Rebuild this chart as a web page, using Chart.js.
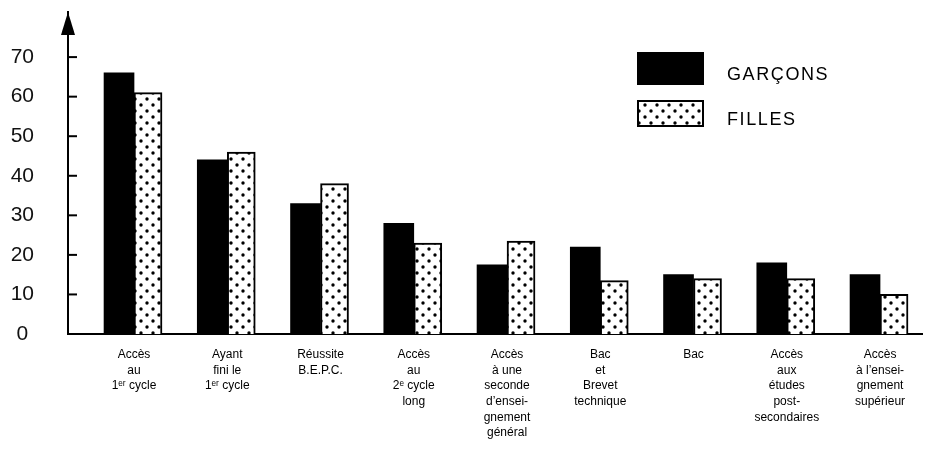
<!DOCTYPE html>
<html lang="fr">
<head>
    <meta charset="UTF-8">
    <title>Garçons / Filles</title>
    <script src="https://cdn.jsdelivr.net/npm/chart.js"></script>
    <style>
        body { margin: 0; background: #fff; }
        #wrap { position: relative; width: 928px; height: 449px; }
    </style>
</head>
<body>
    <div id="wrap"><canvas id="grafica" width="928" height="449"></canvas></div>

    <script>
        // données
        const etapes = [
            ['Accès', 'au', '1ᵉʳ cycle'],
            ['Ayant', 'fini le', '1ᵉʳ cycle'],
            ['Réussite', 'B.E.P.C.'],
            ['Accès', 'au', '2ᵉ cycle', 'long'],
            ['Accès', 'à une', 'seconde', 'd’ensei-', 'gnement', 'général'],
            ['Bac', 'et', 'Brevet', 'technique'],
            ['Bac'],
            ['Accès', 'aux', 'études', 'post-', 'secondaires'],
            ['Accès', 'à l’ensei-', 'gnement', 'supérieur']
        ];
        const garcons = [66, 44, 33, 28, 17.5, 22, 15, 18, 15];
        const filles = [61, 46, 38, 23, 23.5, 13.5, 14, 14, 10];
        const graduations = [0, 10, 20, 30, 40, 50, 60, 70];
        const legendes = ['GARÇONS', 'FILLES'];

        // motif pointillé pour les filles
        function motifPoints() {
            const c = document.createElement('canvas');
            c.width = 12;
            c.height = 12;
            const g = c.getContext('2d');
            g.fillStyle = '#fff';
            g.fillRect(0, 0, 12, 12);
            g.fillStyle = '#000';
            [[3, 3], [9, 9]].forEach(p => {
                g.beginPath();
                g.arc(p[0], p[1], 1.7, 0, Math.PI * 2);
                g.fill();
            });
            return g.createPattern(c, 'repeat');
        }

        const ctx = document.getElementById('grafica').getContext('2d');
        const points = motifPoints();

        // flèche, petites graduations et légende
        const decor = {
            id: 'decor',
            afterDraw(chart) {
                const c = chart.ctx;
                const area = chart.chartArea;
                const y = chart.scales.y;
                const x0 = area.left;
                c.save();
                c.fillStyle = '#000';
                c.strokeStyle = '#000';
                c.lineWidth = 2;
                c.beginPath();
                c.moveTo(x0, area.top);
                c.lineTo(x0 - 7, area.top + 23);
                c.lineTo(x0 + 7, area.top + 23);
                c.closePath();
                c.fill();
                graduations.slice(1).forEach(v => {
                    const py = y.getPixelForValue(v);
                    c.beginPath();
                    c.moveTo(x0, py);
                    c.lineTo(x0 + 9, py);
                    c.stroke();
                });

                // légende
                c.fillStyle = '#000';
                c.fillRect(637, 52, 67, 33);
                c.fillStyle = points;
                c.fillRect(638, 101, 65, 25);
                c.strokeRect(638, 101, 65, 25);
                c.fillStyle = '#000';
                c.font = '18px "Liberation Sans", Arial, sans-serif';
                c.letterSpacing = '1.6px';
                c.textBaseline = 'middle';
                c.fillText(legendes[0], 727, 75);
                c.fillText(legendes[1], 727, 120);
                c.restore();
            }
        };

        new Chart(ctx, {
            type: 'bar',
            data: {
                datasets: [
                    {
                        label: legendes[0],
                        data: garcons.map((v, i) => ({ x: i, y: v })),
                        backgroundColor: '#000',
                        borderWidth: 0,
                        barThickness: 30
                    },
                    {
                        label: legendes[1],
                        data: filles.map((v, i) => ({ x: i, y: v })),
                        backgroundColor: points,
                        borderColor: '#000',
                        borderWidth: 2,
                        barThickness: 28
                    }
                ]
            },
            plugins: [decor],
            options: {
                responsive: false,
                animation: false,
                layout: { padding: { top: 12, right: 6, left: 0, bottom: 0 } },
                plugins: {
                    legend: { display: false },
                    tooltip: { enabled: false }
                },
                scales: {
                    x: {
                        type: 'linear',
                        offset: false,
                        min: -0.708,
                        max: 8.45,
                        afterBuildTicks: s => { s.ticks = etapes.map((e, i) => ({ value: i })); },
                        afterFit: s => { s.height = 115; },
                        grid: { display: false, drawTicks: false },
                        border: { display: true, color: '#000', width: 2 },
                        ticks: {
                            autoSkip: false,
                            maxRotation: 0,
                            padding: 13,
                            color: '#000',
                            font: { family: '"Liberation Sans", Arial, sans-serif', size: 12, lineHeight: 1.3 },
                            callback: v => etapes[v]
                        }
                    },
                    y: {
                        min: 0,
                        max: 81.4,
                        afterBuildTicks: s => { s.ticks = graduations.map(v => ({ value: v })); },
                        afterFit: s => {
                            s.width = 68;
                            s.paddingTop = 0;
                            s.paddingBottom = 0;
                        },
                        grid: { display: false, drawTicks: false },
                        border: { display: true, color: '#000', width: 2 },
                        ticks: {
                            padding: 34,
                            crossAlign: 'center',
                            color: '#111',
                            font: { family: '"Liberation Sans", Arial, sans-serif', size: 21 }
                        }
                    }
                }
            }
        });
    </script>
</body>
</html>
